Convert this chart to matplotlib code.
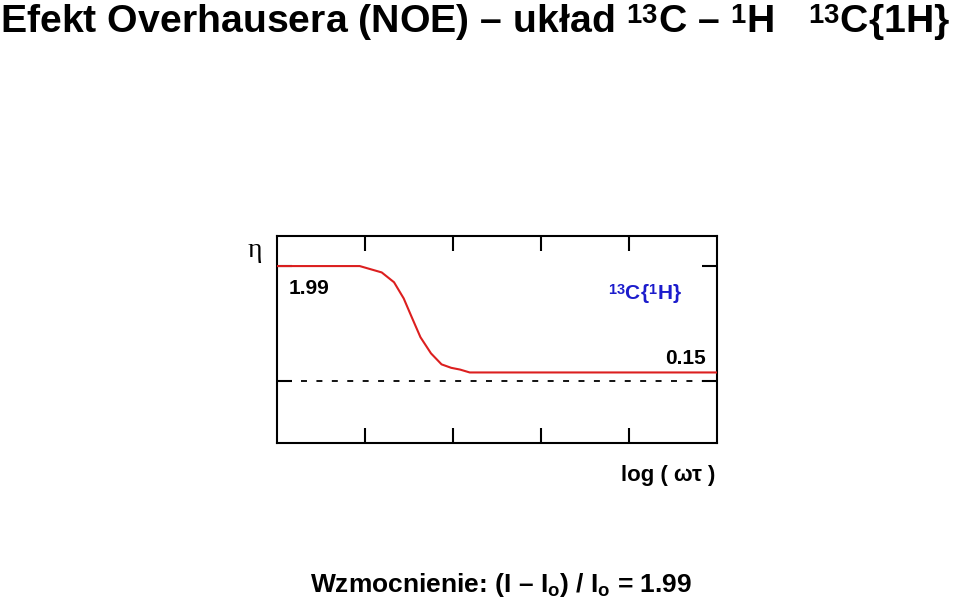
import numpy as np
import matplotlib as mpl
import matplotlib.pyplot as plt

# --- data -------------------------------------------------------------------
# log(omega*tau), arbitrary units across the box (0..5)
x_vals = [0.0, 0.94, 1.19, 1.33, 1.44, 1.53, 1.63, 1.75, 1.87, 1.98, 2.08, 2.19, 5.0]
# NOE enhancement eta
eta_vals = [1.99, 1.99, 1.88, 1.71, 1.43, 1.11, 0.76, 0.48, 0.29, 0.23, 0.20, 0.15, 0.15]
x_ticks = [1, 2, 3, 4]
y_ticks = [0.0, 1.99]
eta_max = 1.99
eta_min = 0.15

RED = "#dc1f1f"
BLUE = "#1c1ccc"
INK = "black"

mpl.rcParams.update({
    "font.family": ["Liberation Sans", "DejaVu Sans"],
    "font.weight": "bold",
    "mathtext.fontset": "custom",
    "mathtext.rm": "Liberation Sans:bold",
    "mathtext.sf": "Liberation Sans:bold",
    "mathtext.it": "Liberation Sans:bold",
    "mathtext.bf": "Liberation Sans:bold",
    "lines.scale_dashes": False,
})

# superscripts sit level with the cap height in the original slide
try:
    from matplotlib import _mathtext
    _mathtext.FontConstantsBase.sup1 = 0.45
except Exception:
    pass

W, H = 959, 600
fig = plt.figure(figsize=(W / 100, H / 100), dpi=100)


def fx(px):
    return px / W


def fy(py):
    return 1 - py / H


ax = fig.add_axes([fx(277), fy(443), fx(717) - fx(277), fy(236) - fy(443)])

ax.plot(x_vals, eta_vals, color=RED, lw=1.5, zorder=3)
ax.axhline(0, xmin=0.055, xmax=0.985, color=INK, lw=1.3,
           ls=(0, (4.3, 6.8)), zorder=2)

ax.set_xlim(0, 5)
ax.set_ylim(-1.07, 2.51)

for s in ax.spines.values():
    s.set_linewidth(1.5)

ax.set_xticks(x_ticks)
ax.tick_params(axis="x", which="both", direction="in", top=True, bottom=True,
               length=11, width=1.5, labelbottom=False)
ax.set_yticks(y_ticks)
ax.tick_params(axis="y", direction="in", left=True, right=True,
               length=10.5, width=1.5, labelleft=False)

# annotations inside the box
ax.text(0.135, eta_max - 0.23, f"{eta_max:.2f}", ha="left", va="top",
        fontsize=15, color=INK)
ax.text(4.6, eta_max - 0.27, r"$^{\mathsf{13}}$C{$^{\mathsf{1}}$H}", ha="right",
        va="top", fontsize=15, color=BLUE)
ax.text(4.87, eta_min + 0.07, f"{eta_min:.2f}", ha="right", va="bottom",
        fontsize=15, color=INK)

# labels outside the box
fig.text(fx(255), fy(250), "\u03b7", ha="center", va="center", fontsize=20,
         family=["Liberation Serif", "DejaVu Serif"], weight="normal")
fig.text(fx(715), fy(481), "log ( \u03c9\u03c4 )", ha="right", va="baseline",
         fontsize=16)

fig.text(fx(0), fy(33),
         r"Efekt Overhausera (NOE) – układ $^{\mathsf{13}}$C – $^{\mathsf{1}}$H   "
         r"$^{\mathsf{13}}$C{1H}",
         ha="left", va="baseline", fontsize=28.3)

fig.text(fx(501), fy(592),
         r"Wzmocnienie: (I – I$_{\mathsf{o}}$) / I$_{\mathsf{o}}$ = 1.99",
         ha="center", va="baseline", fontsize=19)

fig.savefig("out.png", dpi=100)
